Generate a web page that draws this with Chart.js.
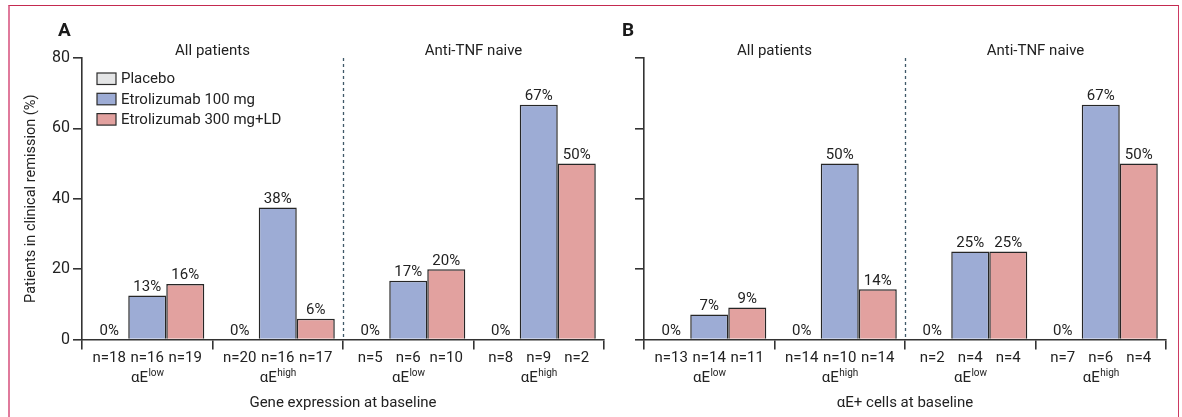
<!DOCTYPE html>
<html><head><meta charset="utf-8">
<script src="https://cdn.jsdelivr.net/npm/chart.js@4.4.1/dist/chart.umd.min.js"></script>
<style>
html,body{margin:0;padding:0;background:#fff;width:1182px;height:417px;overflow:hidden;}
#frame{position:absolute;left:8px;top:5px;width:1171px;height:430px;border-top:1.5px solid #c42a50;border-left:2px solid #e07a9c;border-right:1.5px solid #cc3a62;box-sizing:border-box;pointer-events:none;}
#ca{position:absolute;left:0;top:0;}
#cb{position:absolute;left:620px;top:0;}
</style></head><body>
<canvas id="ca" width="620" height="417"></canvas>
<canvas id="cb" width="562" height="417"></canvas>
<div id="frame"></div>
<script>
// ---- data ----
const seriesNames = ['Placebo', 'Etrolizumab 100 mg', 'Etrolizumab 300 mg+LD'];
const seriesColors = ['#e4e5e6', '#9dacd5', '#e2a19f'];
const groupBase = ['αE', 'αE', 'αE', 'αE'];
const groupSup = ['low', 'high', 'low', 'high'];
const subgroupTitles = ['All patients', 'Anti-TNF naive'];
const yTicks = [0, 20, 40, 60, 80];
const yTitle = 'Patients in clinical remission (%)';

// Panel A
const placeboA = [0, 0, 0, 0];
const e100A = [12.5, 37.5, 16.7, 66.7];
const e300A = [15.8, 5.9, 20, 50];
const placeboLabelsA = ['0%', '0%', '0%', '0%'];
const e100LabelsA = ['13%', '38%', '17%', '67%'];
const e300LabelsA = ['16%', '6%', '20%', '50%'];
const placeboNA = [18, 20, 5, 8];
const e100NA = [16, 16, 6, 9];
const e300NA = [19, 17, 10, 2];
const xTitleA = 'Gene expression at baseline';

// Panel B
const placeboB = [0, 0, 0, 0];
const e100B = [7.1, 50, 25, 66.7];
const e300B = [9.1, 14.3, 25, 50];
const placeboLabelsB = ['0%', '0%', '0%', '0%'];
const e100LabelsB = ['7%', '50%', '25%', '67%'];
const e300LabelsB = ['9%', '14%', '25%', '50%'];
const placeboNB = [13, 14, 2, 7];
const e100NB = [14, 10, 4, 6];
const e300NB = [11, 14, 4, 4];
const xTitleB = 'αE+ cells at baseline';

// ---- styles ----
const TEXT = '#222222';
const AXIS = '#333333';
const FONT = 'Roboto, "Liberation Sans", sans-serif';

function annotPlugin(p) {
  return {
    id: 'annot' + p.letter,
    afterDraw(chart) {
      const ctx = chart.ctx, ca = chart.chartArea, xs = chart.scales.x;
      ctx.save();
      ctx.fillStyle = TEXT;
      ctx.textBaseline = 'alphabetic';
      ctx.textAlign = 'center';
      ctx.font = '15px ' + FONT;
      // value labels
      p.labels.forEach((arr, i) => {
        const meta = chart.getDatasetMeta(i);
        arr.forEach((t, j) => { const el = meta.data[j]; ctx.fillText(t, el.x, el.y - 4.5); });
      });
      // n labels
      p.ns.forEach((arr, i) => {
        const meta = chart.getDatasetMeta(i);
        arr.forEach((n, j) => { ctx.fillText('n=' + n, meta.data[j].x, ca.bottom + 22); });
      });
      // group labels with superscript
      ctx.textAlign = 'left';
      for (let j = 0; j < groupBase.length; j++) {
        const cx = xs.getPixelForValue(j);
        ctx.font = '15px ' + FONT;
        const wb = ctx.measureText(groupBase[j]).width;
        ctx.font = '10px ' + FONT;
        const ws = ctx.measureText(groupSup[j]).width;
        const sx = cx - (wb + ws) / 2;
        ctx.font = '15px ' + FONT;
        ctx.fillText(groupBase[j], sx, ca.bottom + 42.5);
        ctx.font = '10px ' + FONT;
        ctx.fillText(groupSup[j], sx + wb + 0.5, ca.bottom + 36.5);
      }
      // x title
      ctx.textAlign = 'center';
      ctx.font = '15px ' + FONT;
      ctx.fillText(p.xTitle, (ca.left + ca.right) / 2, ca.bottom + 67);
      // subgroup titles & dashed divider
      const px = j => xs.getPixelForValue(j);
      const b01 = (px(0) + px(1)) / 2, b12 = (px(1) + px(2)) / 2, b23 = (px(2) + px(3)) / 2;
      ctx.fillText(subgroupTitles[0], b01, ca.top - 3);
      ctx.fillText(subgroupTitles[1], b23, ca.top - 3);
      ctx.strokeStyle = '#3f5868';
      ctx.lineWidth = 1.3;
      ctx.setLineDash([3, 3]);
      ctx.beginPath();
      ctx.moveTo(Math.round(b12) + 0.5, ca.top);
      ctx.lineTo(Math.round(b12) + 0.5, ca.bottom);
      ctx.stroke();
      ctx.setLineDash([]);
      // panel letter
      ctx.textAlign = 'left';
      ctx.font = 'bold 19px ' + FONT;
      ctx.fillStyle = '#1a1a1a';
      ctx.fillText(p.letter, p.letterX, 35.5);
      ctx.fillStyle = TEXT;
      // y title
      if (p.yTitle) {
        ctx.save();
        ctx.translate(31, (ca.top + ca.bottom) / 2);
        ctx.rotate(-Math.PI / 2);
        ctx.textAlign = 'center';
        ctx.textBaseline = 'middle';
        ctx.font = '14.5px ' + FONT;
        ctx.fillText(p.yTitle, 0, 0);
        ctx.restore();
      }
      // legend
      if (p.legend) {
        ctx.font = '15px ' + FONT;
        ctx.textBaseline = 'middle';
        ctx.textAlign = 'left';
        chart.data.datasets.forEach((ds, i) => {
          const y = 78.5 + i * 20.3;
          ctx.fillStyle = ds.backgroundColor;
          ctx.fillRect(97, y - 5.5, 19, 11.5);
          ctx.strokeStyle = '#2b2b2b';
          ctx.lineWidth = 1.2;
          ctx.strokeRect(97, y - 5.5, 19, 11.5);
          ctx.fillStyle = TEXT;
          ctx.fillText(ds.label, 121, y + 1);
        });
      }
      ctx.restore();
    }
  };
}

function makeChart(id, d) {
  const datasets = d.values.map((v, i) => ({
    label: seriesNames[i],
    data: v,
    backgroundColor: seriesColors[i],
    borderColor: '#262626',
    borderWidth: 1.5,
    borderSkipped: 'start',
    categoryPercentage: 0.874,
    barPercentage: 1.0
  }));
  return new Chart(document.getElementById(id), {
    type: 'bar',
    data: { labels: groupBase.map((b, j) => b + groupSup[j]), datasets },
    options: {
      responsive: false,
      animation: false,
      events: [],
      layout: { padding: { top: 58, right: 16, left: 0, bottom: 0 } },
      plugins: { legend: { display: false }, tooltip: { enabled: false } },
      scales: {
        x: {
          type: 'category',
          offset: true,
          grid: { offset: true, drawOnChartArea: false, drawTicks: true, tickLength: 10, color: AXIS, lineWidth: 1.6 },
          border: { display: true, color: AXIS, width: 1.6 },
          ticks: { display: false },
          afterFit: s => { s.height = 77.5; }
        },
        y: {
          min: 0, max: 80,
          afterBuildTicks: s => { s.ticks = yTicks.map(v => ({ value: v })); },
          grid: { drawOnChartArea: false, drawTicks: true, tickLength: 9, color: AXIS, lineWidth: 1.6 },
          border: { display: true, color: AXIS, width: 1.6 },
          ticks: { display: d.showYLabels, color: TEXT, padding: 3, font: { family: FONT, size: 16 } },
          afterFit: s => { s.width = d.yWidth; }
        }
      }
    },
    plugins: [annotPlugin(d)]
  });
}

function drawAll() {
  makeChart('ca', {
    letter: 'A', letterX: 58, yWidth: 82, showYLabels: true, yTitle: yTitle, legend: true,
    values: [placeboA, e100A, e300A],
    labels: [placeboLabelsA, e100LabelsA, e300LabelsA],
    ns: [placeboNA, e100NA, e300NA],
    xTitle: xTitleA
  });
  makeChart('cb', {
    letter: 'B', letterX: 2, yWidth: 24, showYLabels: false, yTitle: null, legend: false,
    values: [placeboB, e100B, e300B],
    labels: [placeboLabelsB, e100LabelsB, e300LabelsB],
    ns: [placeboNB, e100NB, e300NB],
    xTitle: xTitleB
  });
}
if (document.fonts && document.fonts.load) {
  Promise.all([document.fonts.load('15px Roboto'), document.fonts.load('bold 19px Roboto')]).then(drawAll, drawAll);
} else { drawAll(); }
</script>
</body></html>
